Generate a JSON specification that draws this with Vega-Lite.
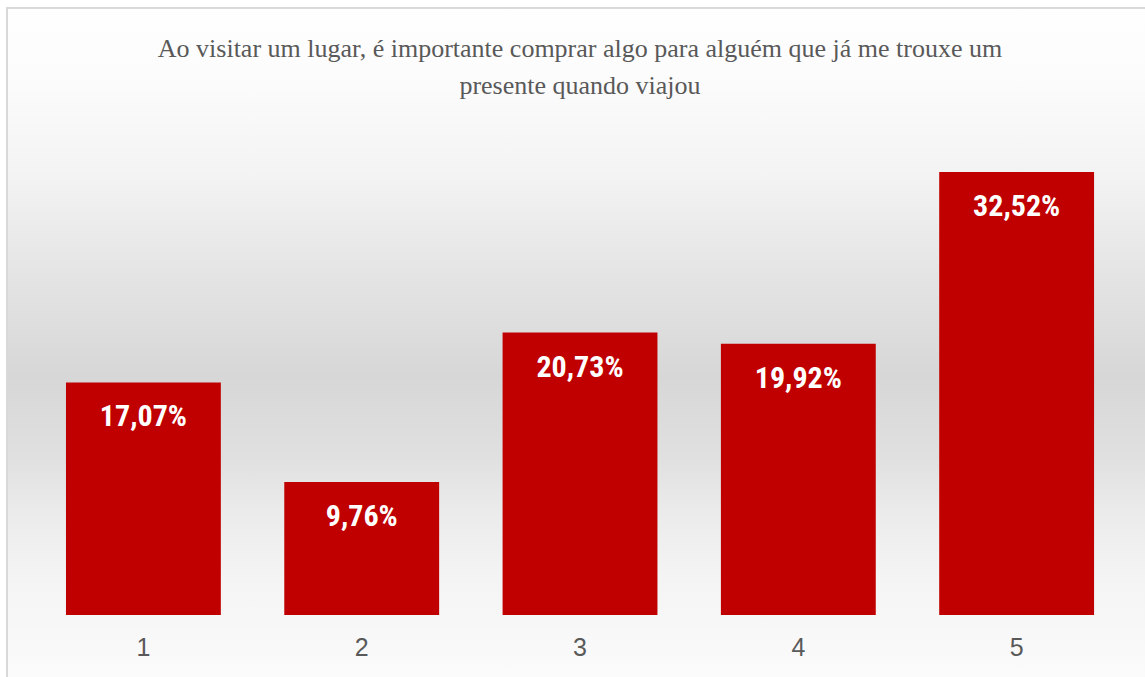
{
  "$schema": "https://vega.github.io/schema/vega-lite/v6.json",
  "width": 1140,
  "height": 671,
  "autosize": "none",
  "padding": {"left": 7, "top": 8, "right": 0, "bottom": 0},
  "background": "white",
  "title": {
    "text": ["Ao visitar um lugar, é importante comprar algo para alguém que já me trouxe um", "presente quando viajou"],
    "font": "Liberation Serif",
    "fontSize": 26,
    "fontWeight": "normal",
    "color": "#595959",
    "anchor": "middle",
    "lineHeight": 37,
    "baseline": "alphabetic",
    "offset": -112,
    "dx": 3
  },
  "config": {
    "view": {
      "stroke": "#d9d9d9",
      "strokeWidth": 2,
      "fill": {
        "gradient": "linear", "x1": 0, "y1": 0, "x2": 0, "y2": 1,
        "stops": [
          {"offset": 0, "color": "#fefefe"},
          {"offset": 0.1, "color": "#fcfcfc"},
          {"offset": 0.25, "color": "#f3f3f3"},
          {"offset": 0.4, "color": "#e4e4e4"},
          {"offset": 0.55, "color": "#d7d7d7"},
          {"offset": 0.67, "color": "#e0e0e0"},
          {"offset": 0.75, "color": "#ebebeb"},
          {"offset": 0.85, "color": "#f4f4f4"},
          {"offset": 1, "color": "#fbfbfb"}
        ]
      }
    }
  },
  "data": {
    "values": [
      {"cat": "1", "value": 17.07, "label": "17,07%"},
      {"cat": "2", "value": 9.76, "label": "9,76%"},
      {"cat": "3", "value": 20.73, "label": "20,73%"},
      {"cat": "4", "value": 19.92, "label": "19,92%"},
      {"cat": "5", "value": 32.52, "label": "32,52%"}
    ]
  },
  "encoding": {
    "x": {
      "field": "cat",
      "type": "ordinal",
      "scale": {"paddingInner": 0.2906, "paddingOuter": 0.2563, "align": 0.527},
      "axis": {
        "title": null,
        "domain": false,
        "ticks": false,
        "offset": -64,
        "labelAngle": 0,
        "labelFont": "Liberation Sans",
        "labelFontSize": 25,
        "labelColor": "#595959",
        "labelPadding": 20
      }
    },
    "y": {
      "field": "value",
      "type": "quantitative",
      "scale": {"domain": [-4.698, 44.56], "nice": false, "zero": false},
      "axis": null
    }
  },
  "layer": [
    {"mark": {"type": "bar", "color": "#C00000"}, "encoding": {"y2": {"datum": 0}}},
    {
      "mark": {
        "type": "text",
        "color": "white",
        "font": "Liberation Sans Narrow, Roboto Condensed, Arial Narrow, Liberation Sans",
        "fontWeight": "bold",
        "fontSize": 30,
        "baseline": "middle",
        "dy": 35
      },
      "encoding": {"text": {"field": "label"}}
    }
  ]
}
